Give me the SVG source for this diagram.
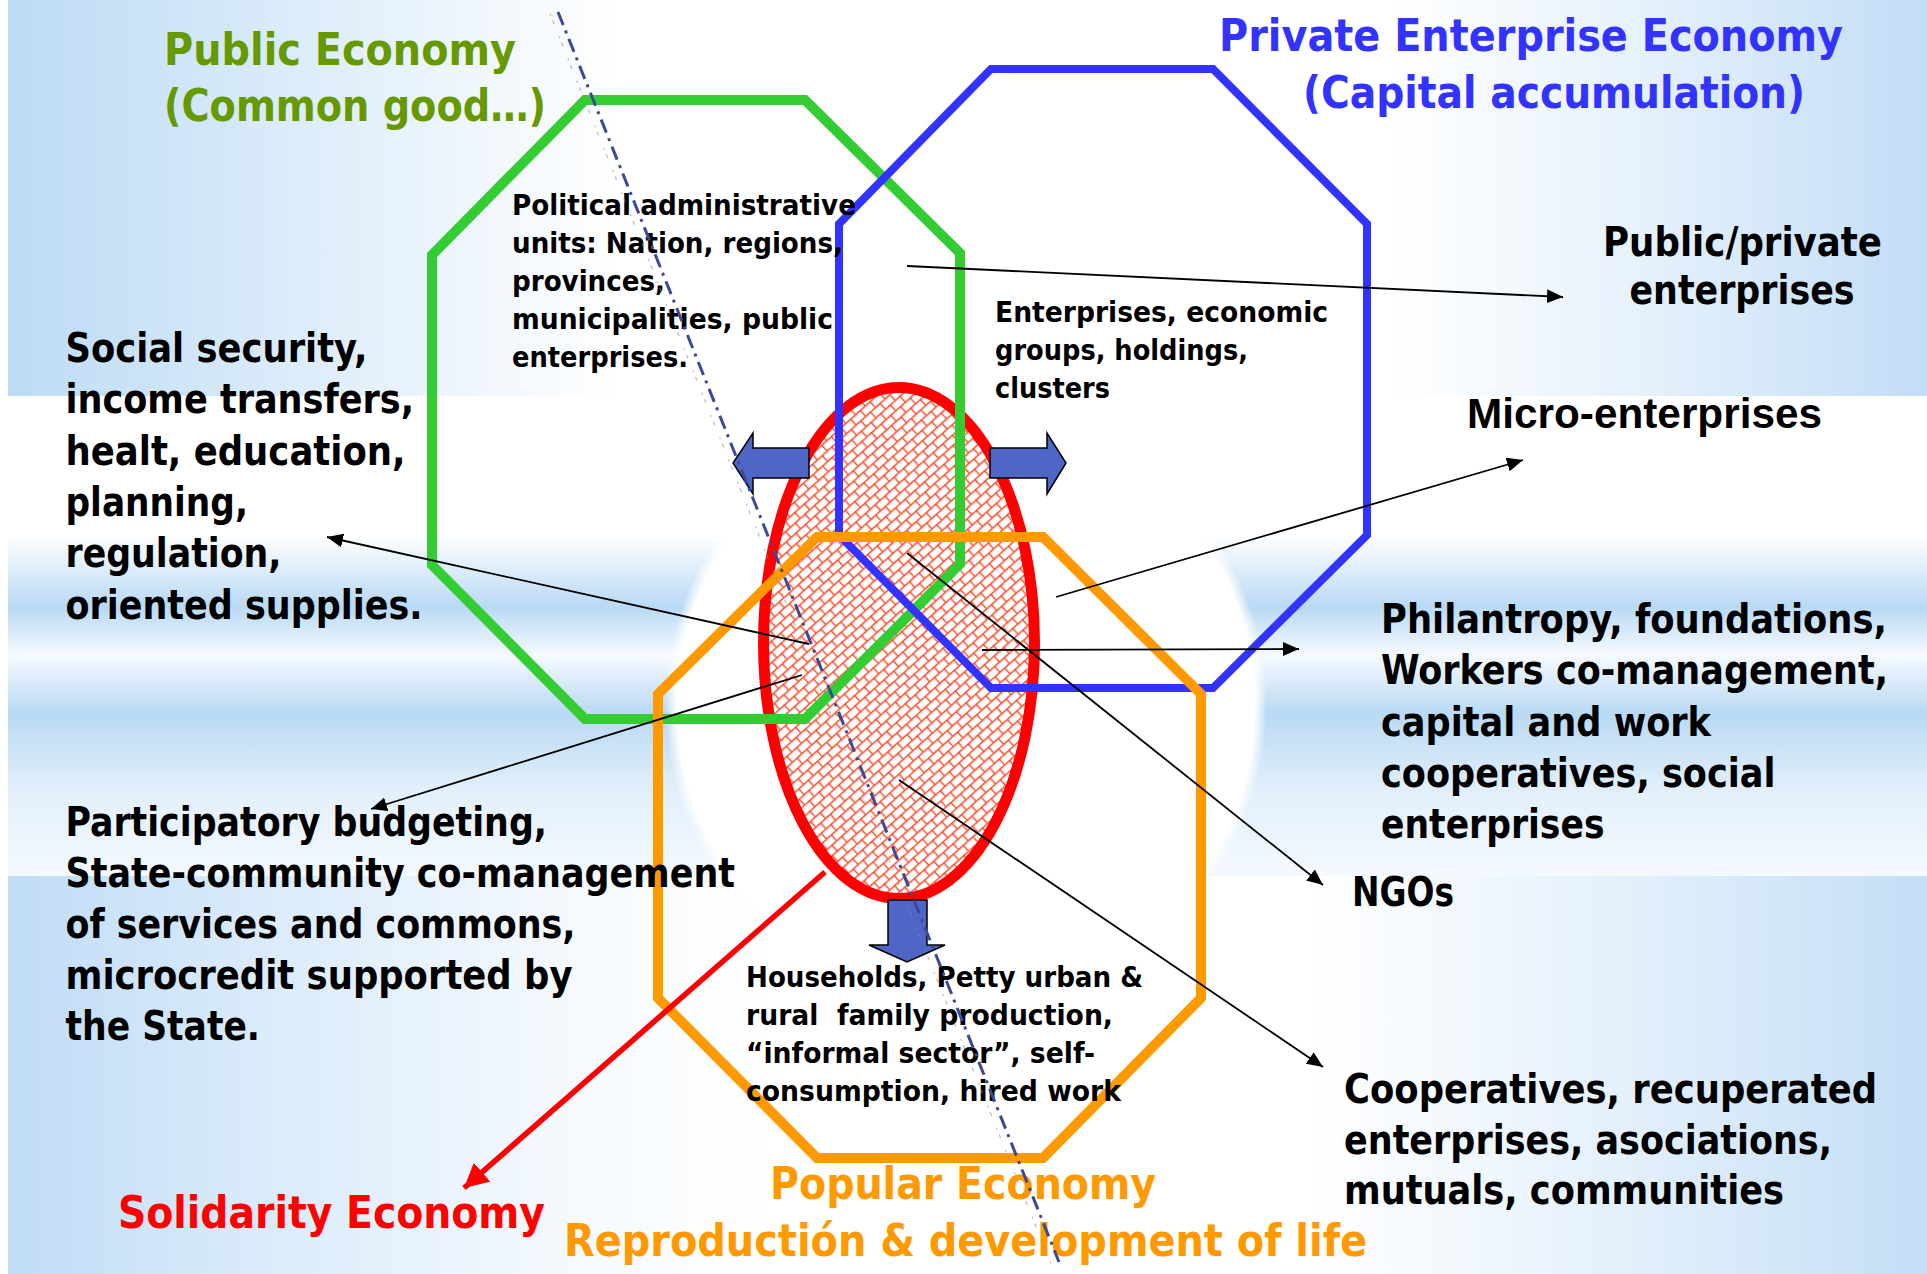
<svg xmlns="http://www.w3.org/2000/svg" width="1927" height="1274" viewBox="0 0 1927 1274">
  <defs>
    <style>
      .t { font-family: "DejaVu Sans", "Liberation Sans", sans-serif; font-weight: bold; font-stretch: condensed; }
      .big { font-size: 40px; fill: #000; }
      .small { font-size: 29px; fill: #000; }
      .title { font-size: 44px; }
      .oct { fill: none; stroke-linejoin: miter; }
      .conn { stroke: #000; stroke-width: 1.8; fill: none; marker-end: url(#ah); }
      .block { fill: #4f66c6; stroke: #000; stroke-width: 1.5; stroke-linejoin: miter; }
    </style>
    <linearGradient id="bgTop" x1="0" y1="0" x2="1" y2="0">
      <stop offset="0" stop-color="#bddbf5"/>
      <stop offset="0.08" stop-color="#cde4f8"/>
      <stop offset="0.22" stop-color="#ebf4fc"/>
      <stop offset="0.32" stop-color="#ffffff"/>
      <stop offset="0.72" stop-color="#ffffff"/>
      <stop offset="0.86" stop-color="#e4f0fb"/>
      <stop offset="1" stop-color="#c2ddf6"/>
    </linearGradient>
    <linearGradient id="bgMid" x1="0" y1="0" x2="0" y2="1">
      <stop offset="0" stop-color="#ffffff"/>
      <stop offset="0.29" stop-color="#ffffff"/>
      <stop offset="0.44" stop-color="#b9d9f4"/>
      <stop offset="0.54" stop-color="#f6fafe"/>
      <stop offset="0.66" stop-color="#b9d9f4"/>
      <stop offset="0.82" stop-color="#e2effb"/>
      <stop offset="1" stop-color="#f4f9fe"/>
    </linearGradient>
    <linearGradient id="bgBot" x1="0" y1="0" x2="1" y2="0">
      <stop offset="0" stop-color="#c0dcf6"/>
      <stop offset="0.12" stop-color="#d8eafa"/>
      <stop offset="0.3" stop-color="#f6fafe"/>
      <stop offset="0.4" stop-color="#ffffff"/>
      <stop offset="0.68" stop-color="#ffffff"/>
      <stop offset="0.85" stop-color="#e2effb"/>
      <stop offset="1" stop-color="#c4def6"/>
    </linearGradient>
    <radialGradient id="glow" cx="0.5" cy="0.5" r="0.5">
      <stop offset="0" stop-color="#ffffff" stop-opacity="1"/>
      <stop offset="0.96" stop-color="#ffffff" stop-opacity="1"/>
      <stop offset="1" stop-color="#ffffff" stop-opacity="0"/>
    </radialGradient>
    <!-- brick-like hatch for the solidarity ellipse -->
    <pattern id="hatch" width="13" height="16" patternUnits="userSpaceOnUse" patternTransform="rotate(-42)">
      <rect width="13" height="16" fill="#ffffff"/>
      <path d="M0 0.7 H13 M0 8.7 H13 M0.7 0.7 V8.7 M7.2 8.7 V16.7" stroke="#ff4b2b" stroke-width="1.4" fill="none"/>
    </pattern>
    <marker id="ah" markerUnits="userSpaceOnUse" markerWidth="17" markerHeight="15" refX="16" refY="7" orient="auto">
      <path d="M0 0 L16 7 L0 14 z" fill="#000"/>
    </marker>
    <marker id="ahRed" markerUnits="userSpaceOnUse" markerWidth="26" markerHeight="26" refX="24" refY="12.5" orient="auto">
      <path d="M0 0 L24 12.5 L0 25 z" fill="#ff0000"/>
    </marker>
  </defs>

  <!-- background bands -->
  <g id="background">
    <rect x="0" y="0" width="1927" height="1274" fill="#ffffff"/>
    <rect x="8" y="0" width="1919" height="396" fill="url(#bgTop)"/>
    <rect x="8" y="396" width="1919" height="480" fill="url(#bgMid)"/>
    <rect x="8" y="876" width="1919" height="398" fill="url(#bgBot)"/>
    <circle cx="966" cy="705" r="301" fill="url(#glow)"/>
  </g>

  <!-- solidarity economy core -->
  <g id="solidarity-core">
    <ellipse cx="899" cy="643" rx="135.5" ry="255.5" fill="url(#hatch)" stroke="#ff0000" stroke-width="11"/>
  </g>

  <!-- economy octagons -->
  <g id="public-economy">
    <polygon class="oct" points="585,100 805,100 960,253 960,564 805,719 585,719 432,565 432,255" stroke="#33cc33" stroke-width="10"/>
  </g>
  <g id="private-economy">
    <polygon class="oct" points="991,69 1213,69 1367,224 1367,535 1213,688 991,688 839,535 839,224" stroke="#3333ff" stroke-width="8"/>
  </g>
  <g id="popular-economy">
    <polygon class="oct" points="817,537 1043,537 1201,694 1201,998 1043,1158 817,1158 658,998 658,694" stroke="#ff9900" stroke-width="10"/>
  </g>

  <!-- expansion arrows -->
  <g id="expansion-arrows">
    <polygon class="block" points="809,448 753,448 753,433 733,463 753,494 753,478 809,478"/>
    <polygon class="block" points="990,448 1047,448 1047,433 1066,463 1047,494 1047,478 990,478"/>
    <polygon class="block" points="888,900 927,900 927,945 945,945 907,962 869,945 888,945"/>
  </g>

  <!-- labels -->
  <g id="title-public">
    <text class="t title" x="164" y="65" textLength="352" lengthAdjust="spacingAndGlyphs" fill="#669900">Public Economy</text>
    <text class="t title" x="164" y="121" textLength="382" lengthAdjust="spacingAndGlyphs" fill="#669900">(Common good…)</text>
  </g>
  <g id="title-private">
    <text class="t title" x="1219" y="51" textLength="624" lengthAdjust="spacingAndGlyphs" fill="#3333ff">Private Enterprise Economy</text>
    <text class="t title" x="1303" y="108" textLength="502" lengthAdjust="spacingAndGlyphs" fill="#3333ff">(Capital accumulation)</text>
  </g>
  <g id="title-solidarity">
    <text class="t title" x="118" y="1228" textLength="427" lengthAdjust="spacingAndGlyphs" fill="#ff0000">Solidarity Economy</text>
  </g>
  <g id="title-popular">
    <text class="t title" x="770" y="1199" textLength="386" lengthAdjust="spacingAndGlyphs" fill="#ff9900">Popular Economy</text>
    <text class="t title" x="564" y="1256" textLength="803" lengthAdjust="spacingAndGlyphs" fill="#ff9900">Reproductión &amp; development of life</text>
  </g>

  <g id="public-units">
    <text class="t small" x="512" y="215" textLength="344" lengthAdjust="spacingAndGlyphs">Political administrative</text>
    <text class="t small" x="512" y="253" textLength="331" lengthAdjust="spacingAndGlyphs">units: Nation, regions,</text>
    <text class="t small" x="512" y="291" textLength="153" lengthAdjust="spacingAndGlyphs">provinces,</text>
    <text class="t small" x="512" y="329" textLength="321" lengthAdjust="spacingAndGlyphs">municipalities, public</text>
    <text class="t small" x="512" y="367" textLength="176" lengthAdjust="spacingAndGlyphs">enterprises.</text>
  </g>
  <g id="private-units">
    <text class="t small" x="995" y="322" textLength="333" lengthAdjust="spacingAndGlyphs">Enterprises, economic</text>
    <text class="t small" x="995" y="360" textLength="253" lengthAdjust="spacingAndGlyphs">groups, holdings,</text>
    <text class="t small" x="995" y="398" textLength="115" lengthAdjust="spacingAndGlyphs">clusters</text>
  </g>
  <g id="popular-units">
    <text class="t small" x="746" y="987" textLength="397" lengthAdjust="spacingAndGlyphs">Households, Petty urban &amp;</text>
    <text class="t small" x="746" y="1025" textLength="367" lengthAdjust="spacingAndGlyphs" xml:space="preserve">rural  family production,</text>
    <text class="t small" x="746" y="1063" textLength="349" lengthAdjust="spacingAndGlyphs">“informal sector”, self-</text>
    <text class="t small" x="746" y="1101" textLength="375" lengthAdjust="spacingAndGlyphs">consumption, hired work</text>
  </g>

  <g id="social-security">
    <text class="t big" x="65.5" y="362" textLength="302" lengthAdjust="spacingAndGlyphs">Social security,</text>
    <text class="t big" x="65.5" y="413" textLength="348.5" lengthAdjust="spacingAndGlyphs">income transfers,</text>
    <text class="t big" x="65.5" y="465" textLength="340" lengthAdjust="spacingAndGlyphs">healt, education,</text>
    <text class="t big" x="65.5" y="516" textLength="182.5" lengthAdjust="spacingAndGlyphs">planning,</text>
    <text class="t big" x="65.5" y="567" textLength="216" lengthAdjust="spacingAndGlyphs">regulation,</text>
    <text class="t big" x="65.5" y="619" textLength="357" lengthAdjust="spacingAndGlyphs">oriented supplies.</text>
  </g>
  <g id="participatory">
    <text class="t big" x="65.5" y="836" textLength="481.5" lengthAdjust="spacingAndGlyphs">Participatory budgeting,</text>
    <text class="t big" x="65.5" y="887" textLength="669.5" lengthAdjust="spacingAndGlyphs">State-community co-management</text>
    <text class="t big" x="65.5" y="938" textLength="510" lengthAdjust="spacingAndGlyphs">of services and commons,</text>
    <text class="t big" x="65.5" y="989" textLength="507" lengthAdjust="spacingAndGlyphs">microcredit supported by</text>
    <text class="t big" x="65.5" y="1040" textLength="194.5" lengthAdjust="spacingAndGlyphs">the State.</text>
  </g>
  <g id="public-private">
    <text class="t big" x="1603" y="256" textLength="279" lengthAdjust="spacingAndGlyphs">Public/private</text>
    <text class="t big" x="1629.5" y="304" textLength="225" lengthAdjust="spacingAndGlyphs">enterprises</text>
  </g>
  <g id="micro-enterprises">
    <text x="1467" y="428" textLength="355" lengthAdjust="spacingAndGlyphs" font-family="'Liberation Sans', Arial, sans-serif" font-weight="bold" font-size="42" fill="#000">Micro-enterprises</text>
  </g>
  <g id="philanthropy">
    <text class="t big" x="1381" y="633" textLength="506" lengthAdjust="spacingAndGlyphs">Philantropy, foundations,</text>
    <text class="t big" x="1381" y="684" textLength="507" lengthAdjust="spacingAndGlyphs">Workers co-management,</text>
    <text class="t big" x="1381" y="735.5" textLength="330" lengthAdjust="spacingAndGlyphs">capital and work</text>
    <text class="t big" x="1381" y="786.5" textLength="394.5" lengthAdjust="spacingAndGlyphs">cooperatives, social</text>
    <text class="t big" x="1381" y="838" textLength="223.5" lengthAdjust="spacingAndGlyphs">enterprises</text>
  </g>
  <g id="ngos">
    <text class="t big" x="1352" y="906" textLength="102" lengthAdjust="spacingAndGlyphs">NGOs</text>
  </g>
  <g id="cooperatives">
    <text class="t big" x="1344" y="1103" textLength="533" lengthAdjust="spacingAndGlyphs">Cooperatives, recuperated</text>
    <text class="t big" x="1344" y="1154" textLength="488" lengthAdjust="spacingAndGlyphs">enterprises, asociations,</text>
    <text class="t big" x="1344" y="1204" textLength="440" lengthAdjust="spacingAndGlyphs">mutuals, communities</text>
  </g>

  <!-- connectors -->
  <g id="connectors">
    <line x1="550" y1="14" x2="1051" y2="1264" stroke="#8a8a9a" stroke-width="1.2" stroke-dasharray="2 5 4 13" opacity="0.6"/>
    <line x1="558" y1="12" x2="1059" y2="1262" stroke="#3b4a96" stroke-width="3" stroke-dasharray="14 6 3 6"/>
    <line class="conn" x1="907" y1="266" x2="1563" y2="297"/>
    <line class="conn" x1="1056" y1="597" x2="1523" y2="460"/>
    <line class="conn" x1="809" y1="644" x2="327" y2="537"/>
    <line class="conn" x1="802" y1="675" x2="371" y2="809"/>
    <line class="conn" x1="982" y1="650" x2="1299" y2="649"/>
    <line class="conn" x1="907" y1="553" x2="1323" y2="885"/>
    <line class="conn" x1="899" y1="780" x2="1323" y2="1067"/>
    <line x1="825" y1="872" x2="464" y2="1188" stroke="#ff0000" stroke-width="5.5" marker-end="url(#ahRed)"/>
  </g>
</svg>
